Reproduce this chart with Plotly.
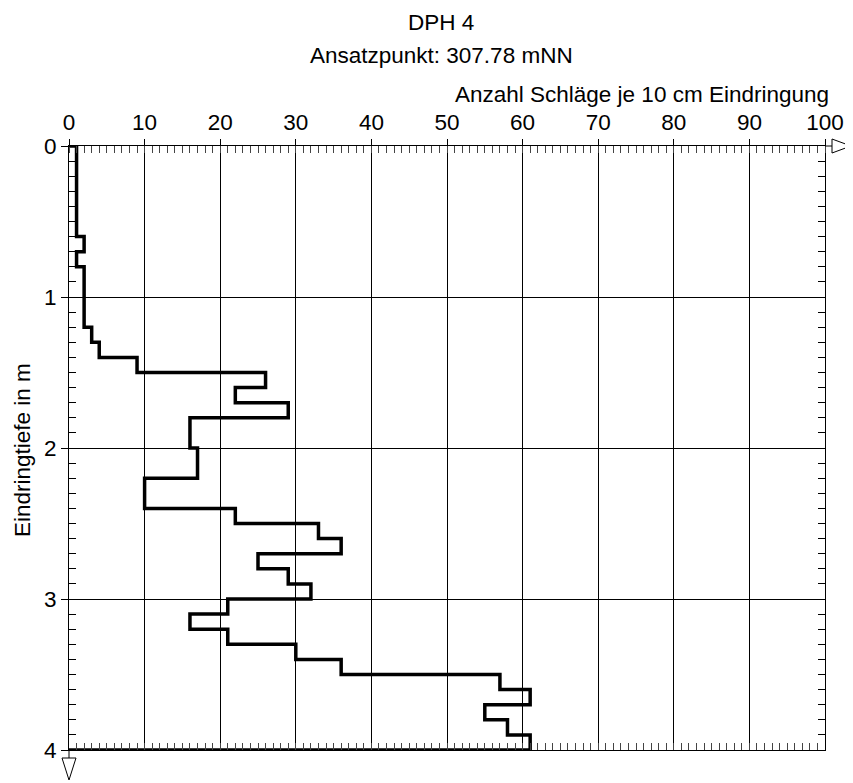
import plotly.graph_objects as go

# Depth intervals (m) and blow counts per 10 cm
depth_top = [round(i * 0.1, 1) for i in range(40)]
blows = [1, 1, 1, 1, 1, 1, 2, 1, 2, 2,
         2, 2, 3, 4, 9, 26, 22, 29, 16, 16,
         17, 17, 10, 10, 22, 33, 36, 25, 29, 32,
         21, 16, 21, 30, 36, 57, 61, 55, 58, 61]
x_ticks = list(range(0, 101, 10))
y_ticks = [0, 1, 2, 3, 4]

title = "DPH 4"
subtitle = "Ansatzpunkt: 307.78 mNN"
x_title = "Anzahl Schläge je 10 cm Eindringung"
y_title = "Eindringtiefe in m"

# build step polygon
xs, ys = [0], [0]
for d, b in zip(depth_top, blows):
    xs += [b, b]
    ys += [d, round(d + 0.1, 1)]
xs.append(0)
ys.append(4)

OFF = 8  # page body margin
W, H = 853 - OFF, 783 - OFF
L, R, T, B = 69 - OFF, 825 - OFF, 146 - OFF, 750 - OFF
FONT = "Liberation Sans, Arial, sans-serif"

def px(x):
    return (x - OFF - L) / (R - L)

def py(y):
    return (B - (y - OFF)) / (B - T)

fig = go.Figure()
fig.add_trace(go.Scatter(x=xs, y=ys, mode="lines",
                         line=dict(color="black", width=3.5, shape="linear"),
                         hoverinfo="skip", showlegend=False))
fig.add_trace(go.Scatter(x=[None], y=[None], xaxis="x2", yaxis="y2",
                         mode="lines", showlegend=False, hoverinfo="skip"))

FS = 22.5
axfont = dict(family=FONT, size=FS, color="black")

fig.update_layout(
    width=W, height=H,
    margin=dict(l=L, r=W - R, t=T, b=H - B, pad=0, autoexpand=False),
    paper_bgcolor="white", plot_bgcolor="white",
    font=dict(family=FONT, size=FS, color="black"),
    xaxis=dict(side="top", range=[0, 100], tickvals=x_ticks,
               ticktext=[str(v) for v in x_ticks],
               showgrid=True, gridcolor="black", gridwidth=1,
               ticks="outside", ticklen=6, tickwidth=1, tickcolor="black",
               minor=dict(dtick=1, ticks="inside", ticklen=7, tickwidth=1,
                          tickcolor="#444", showgrid=False),
               showline=True, linecolor="black", linewidth=1,
               zeroline=False, tickfont=axfont, fixedrange=True, automargin=False),
    yaxis=dict(range=[4, 0], tickvals=y_ticks,
               ticktext=[str(v) for v in y_ticks],
               showgrid=True, gridcolor="black", gridwidth=1,
               ticks="outside", ticklen=7, tickwidth=1, tickcolor="black",
               minor=dict(dtick=0.1, ticks="inside", ticklen=7, tickwidth=1,
                          tickcolor="black", showgrid=False),
               showline=True, linecolor="black", linewidth=1,
               zeroline=False, tickfont=axfont, fixedrange=True, automargin=False),
    xaxis2=dict(overlaying="x", side="bottom", range=[0, 100], dtick=1,
                ticks="inside", ticklen=7, tickwidth=1, tickcolor="#444",
                showticklabels=False, showgrid=False, zeroline=False,
                showline=True, linecolor="black", linewidth=1, fixedrange=True),
    yaxis2=dict(overlaying="y", side="right", range=[4, 0], dtick=0.1,
                ticks="inside", ticklen=7, tickwidth=1, tickcolor="black",
                showticklabels=False, showgrid=False, zeroline=False,
                showline=True, linecolor="black", linewidth=1, fixedrange=True),
)

ann = []
ann.append(dict(text=title, x=px(441), y=py(OFF), xref="paper", yref="paper",
                showarrow=False, xanchor="center", yanchor="top",
                font=dict(family=FONT, size=FS)))
ann.append(dict(text=subtitle, x=px(441), y=py(55), xref="paper", yref="paper",
                showarrow=False, xanchor="center", yanchor="middle",
                font=dict(family=FONT, size=FS)))
ann.append(dict(text=x_title, x=px(831), y=py(95), xref="paper", yref="paper",
                showarrow=False, xanchor="right", yanchor="middle",
                font=dict(family=FONT, size=FS)))
ann.append(dict(text=y_title, x=px(22), y=py(450), xref="paper", yref="paper",
                showarrow=False, xanchor="center", yanchor="middle", textangle=-90,
                font=dict(family=FONT, size=FS)))
fig.update_layout(annotations=ann)

shapes = []
# top arrow
shapes.append(dict(type="line", xref="paper", yref="paper",
                   x0=px(825), y0=py(146), x1=px(832), y1=py(146),
                   line=dict(color="black", width=1)))
shapes.append(dict(type="path", xref="paper", yref="paper",
                   path=f"M {px(832)} {py(139)} L {px(851)} {py(146)} L {px(832)} {py(153)} Z",
                   line=dict(color="black", width=1), fillcolor="white"))
# bottom arrow
shapes.append(dict(type="line", xref="paper", yref="paper",
                   x0=px(69), y0=py(750), x1=px(69), y1=py(758),
                   line=dict(color="black", width=1)))
shapes.append(dict(type="path", xref="paper", yref="paper",
                   path=f"M {px(62)} {py(758)} L {px(76)} {py(758)} L {px(69)} {py(780)} Z",
                   line=dict(color="black", width=1), fillcolor="white"))
fig.update_layout(shapes=shapes)

fig.write_html("out.html")
